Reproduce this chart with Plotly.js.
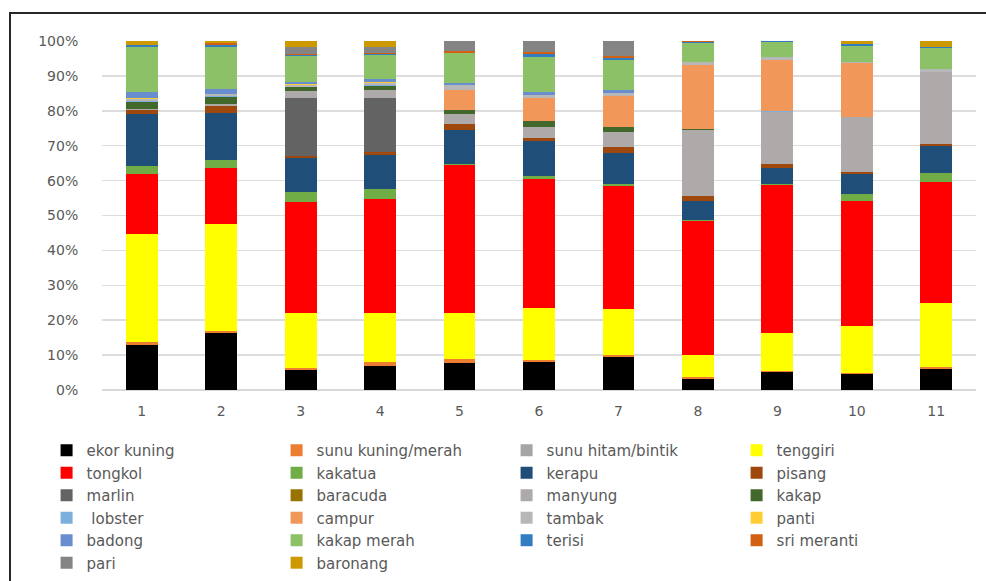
<!DOCTYPE html>
<html>
<head>
<meta charset="utf-8">
<script src="https://cdn.plot.ly/plotly-3.0.1.min.js"></script>
<style>
  html, body { margin: 0; padding: 0; background: #ffffff; }
  #frame { position: absolute; left: 9px; top: 12px; width: 1000px; height: 600px;
           border-left: 2px solid #262626; border-top: 2px solid #262626; pointer-events: none; }
  #chart { position: absolute; left: 0; top: 0; width: 986px; height: 581px; }
</style>
</head>
<body>
<div id="chart"></div>
<div id="frame"></div>
<script>
const categories = ["1","2","3","4","5","6","7","8","9","10","11"];

const ekorKuning      = [12.9,16.4,5.7,7.0,7.8,7.9,9.4,3.2,5.1,4.7,6.1];
const sunuKuningMerah = [0.8,0.5,0.6,0.9,1.2,0.7,0.6,0.5,0.3,0.2,0.5];
const sunuHitamBintik = [0.1,0.1,0,0,0,0,0,0,0,0,0];
const tenggiri        = [31.1,30.9,15.7,14.3,13.0,15.0,13.3,6.4,10.8,13.5,18.2];
const tongkol         = [17.5,16.2,32.0,32.5,42.3,36.9,35.2,38.1,42.3,35.8,34.9];
const kakatua         = [2.2,2.2,2.8,2.9,0.5,0.8,0.5,0.3,0.5,2.0,2.6];
const kerapu          = [15.0,13.8,9.7,9.7,9.5,10.1,8.8,5.5,4.4,5.7,7.7];
const pisang          = [1.0,1.8,0.8,0.8,1.8,0.9,1.9,1.4,1.1,0.7,0.6];
const marlin          = [0,0.2,16.4,15.6,0,0,0,0,0,0,0];
const baracuda        = [0,0,0,0,0,0,0,0,0,0,0];
const manyung         = [0.3,0.6,2.1,2.3,2.8,3.1,4.3,18.8,15.0,15.5,20.6];
const kakap           = [2.2,2.0,1.2,1.2,1.3,1.8,1.4,0.3,0,0,0];
const lobster         = [0.2,0.2,0.1,0.2,0,0,0,0,0.2,0,0];
const campur          = [0,0,0,0,5.7,6.6,8.9,18.4,14.8,15.5,0];
const tambak          = [0.7,0.5,0.4,0.6,1.4,0.7,0.7,0.7,0.6,0.4,0.8];
const panti           = [0.3,0.2,0.3,0.3,0,0,0,0,0,0,0];
const badong          = [1.5,1.3,0.6,0.8,0.7,1.0,1.0,0,0,0,0];
const kakapMerah      = [13.2,12.3,7.5,6.9,8.5,10.0,8.6,5.5,4.4,4.7,6.1];
const terisi          = [0.4,0.5,0.2,0.3,0,0.7,0.5,0.3,0.3,0.3,0.3];
const sriMeranti      = [0,0.4,0.4,0.2,0.5,0.7,0.7,0.3,0,0,0];
const pari            = [0,0,2.0,1.9,2.9,3.1,4.2,0,0,0,0];
const baronang        = [1.2,0.7,1.7,1.6,0,0,0,0,0,1.0,1.6];

const seriesNames = ["ekor kuning","sunu kuning/merah","sunu hitam/bintik","tenggiri",
  "tongkol","kakatua","kerapu","pisang","marlin","baracuda","manyung","kakap",
  " lobster","campur","tambak","panti","badong","kakap merah","terisi","sri meranti",
  "pari","baronang"];
const seriesValues = [ekorKuning,sunuKuningMerah,sunuHitamBintik,tenggiri,tongkol,kakatua,
  kerapu,pisang,marlin,baracuda,manyung,kakap,lobster,campur,tambak,panti,badong,
  kakapMerah,terisi,sriMeranti,pari,baronang];
const seriesColors = ["#000000","#ED7D31","#A5A5A5","#FFFF00","#FF0000","#70AD47",
  "#1F4E79","#9E480E","#636363","#997300","#AEAAAA","#43682B","#7CAFDD","#F1975A",
  "#B7B7B7","#FFCD33","#698ED0","#8CC168","#327DC2","#D26012","#848484","#CC9A00"];

const traces = seriesNames.map((n, i) => ({
  type: "bar",
  name: n,
  x: categories,
  y: seriesValues[i],
  marker: { color: seriesColors[i], line: { width: 0 } },
  hoverinfo: "name+y"
}));

const fontFam = "'DejaVu Sans', 'Open Sans', sans-serif";

const layout = {
  width: 986,
  height: 581,
  paper_bgcolor: "#ffffff",
  plot_bgcolor: "#ffffff",
  barmode: "stack",
  barnorm: "percent",
  bargap: 0.6,
  margin: { l: 102, r: 10, t: 41, b: 191, pad: 0, autoexpand: false },
  font: { family: fontFam, size: 14, color: "#595959" },
  xaxis: {
    type: "category",
    showgrid: false,
    showline: false,
    zeroline: false,
    ticks: "outside",
    ticklen: 8,
    tickcolor: "rgba(0,0,0,0)",
    tickfont: { family: fontFam, size: 14, color: "#595959" }
  },
  yaxis: {
    range: [0, 100],
    tickvals: [0,10,20,30,40,50,60,70,80,90,100],
    ticktext: ["0%","10%","20%","30%","40%","50%","60%","70%","80%","90%","100%"],
    showgrid: true,
    gridcolor: "#DDDDDD",
    gridwidth: 1.5,
    zeroline: true,
    zerolinecolor: "#D9D9D9",
    zerolinewidth: 1.5,
    showline: false,
    ticks: "outside",
    ticklen: 20,
    tickcolor: "rgba(0,0,0,0)",
    tickfont: { family: fontFam, size: 14, color: "#595959" }
  },
  showlegend: true,
  legend: {
    orientation: "h",
    traceorder: "normal",
    x: -0.0634,
    xanchor: "left",
    y: -0.126,
    yanchor: "top",
    entrywidth: 185,
    entrywidthmode: "pixels",
    font: { family: fontFam, size: 15, color: "#595959" },
    bgcolor: "rgba(0,0,0,0)"
  }
};

Plotly.newPlot("chart", traces, layout, { displayModeBar: false, staticPlot: true });
</script>
</body>
</html>
